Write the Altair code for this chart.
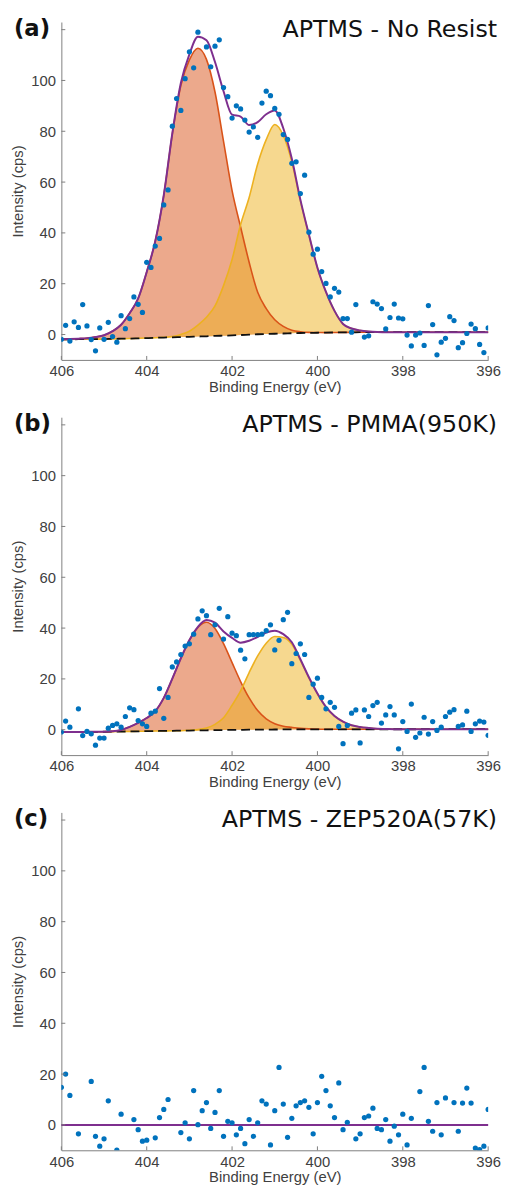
import altair as alt
import pandas as pd

# ---------------- data ----------------
ENERGY = [round(406 - 0.1 * i, 1) for i in range(101)]   # 406.0 ... 396.0 (step 0.1 eV)
GRID = [round(406 - 0.2 * i, 1) for i in range(51)]      # 406.0 ... 396.0 (step 0.2 eV)

N = None
PTS_A = [-1.9, 3.6, -2.6, 5.0, 2.8, 11.8, 3.4, -2.0, -6.4, 2.6,
         -1.9, 4.8, -0.8, -3.0, 7.4, 2.3, 6.3, 14.8, 11.9, 8.7,
         28.4, 26.4, 34.8, 37.8, 51.0, 56.9, 82.0, 92.9, 88.2, 100.7,
         111.3, 105.0, 119.0, N, 113.2, 105.4, 113.5, 116.0, 97.2, 93.6,
         85.2, 90.0, 88.8, 84.4, 79.7, 81.7, 77.6, 91.1, 95.8, 94.0,
         89.0, 86.7, 78.7, 76.8, 67.4, 68.0, 55.5, 62.7, 40.3, 31.6,
         33.6, 24.8, 20.1, 14.8, 18.2, 16.7, 6.3, 6.3, 0.9, 11.8,
         N, -1.0, -0.5, 12.9, 12.0, 10.2, 2.2, 6.7, 12.0, 6.5,
         6.2, -0.2, -4.5, -0.2, 0.6, -4.3, 11.4, 3.9, -8.0, -3.0,
         -1.5, 7.0, 5.5, -5.2, -3.2, 0.4, 4.1, 2.3, -3.9, -7.1,
         2.6]

PTS_B = [-0.9, 3.4, 1.0, N, 8.2, -2.3, -0.7, -1.6, -6.1, -3.3,
         -3.3, 0.6, 1.7, 2.3, 1.0, 5.2, 8.6, 7.9, 3.6, 2.3,
         1.3, 6.5, 7.3, 16.2, 4.5, 12.7, 24.7, 26.7, 29.6, 32.9,
         33.8, 37.6, 43.6, 46.8, 44.9, 37.4, 41.3, 47.8, 35.7, 44.5,
         38.0, 37.0, 31.3, 27.9, 37.4, 37.4, 37.4, 37.6, 39.0, 41.3,
         31.4, 35.2, 43.3, 46.2, 26.0, 30.0, 33.8, 29.6, 12.7, 17.9,
         20.3, 12.7, 8.2, 10.8, 8.8, 1.3, -5.5, 1.7, 6.5, 7.8,
         -5.2, 7.8, 5.2, 9.5, 10.8, 2.6, 5.8, 9.1, 5.8, -7.5,
         3.2, -0.7, 10.1, -3.0, -1.3, 4.9, -1.7, 3.2, -0.3, 1.0,
         5.2, 6.9, 7.9, 1.3, 1.9, 7.3, -0.7, 2.3, 3.4, 3.0,
         -2.2]

PTS_C = [14.8, 20.0, 11.6, N, -3.5, N, N, 17.1, -4.5, -8.4,
         -5.5, 9.5, N, -9.9, 4.2, N, N, 2.1, -1.9, -6.4,
         -6.0, N, -5.1, 2.9, 6.1, 10.0, N, N, -3.0, 0.8,
         -5.5, 13.5, 0.1, 5.6, 8.8, -1.4, 4.9, 13.5, -4.5, 1.4,
         0.8, -3.9, -1.4, -7.4, 2.1, -4.5, 0.8, 9.5, 8.2, -7.9,
         5.6, 22.6, 8.2, -4.9, 2.6, 7.5, 8.8, 9.5, 6.9, -3.5,
         8.8, 19.1, 13.5, 7.5, 2.9, 16.5, -1.9, 1.0, N, -5.5,
         -3.5, 2.9, 3.5, 6.6, -1.4, -1.9, 2.1, -6.4, -0.5, -3.9,
         4.2, -7.9, 2.6, N, 13.1, 22.6, 1.4, -2.5, 8.8, -3.9,
         10.6, N, 8.8, -2.5, 8.6, 14.5, 8.6, -9.1, -9.7, -8.4,
         6.1]

# fitted background and components (on GRID)
BASE_A = [-1.9, -1.9, -1.85, -1.85, -1.8, -1.8, -1.7, -1.65, -1.6, -1.5,
          -1.4, -1.3, -1.2, -1.1, -1.0, -0.9, -0.8, -0.7, -0.55, -0.45,
          -0.35, -0.2, -0.05, 0.1, 0.2, 0.3, 0.4, 0.5, 0.6, 0.65,
          0.7, 0.75, 0.8, 0.85, 0.85, 0.9, 0.9, 0.9, 0.9, 0.9,
          0.9, 0.9, 0.9, 0.9, 0.9, 0.9, 0.9, 0.9, 0.9, 0.9, 0.9]
PEAK1_A = [0, 0.1, 0.2, 0.4, 0.8, 1.5, 3.0, 5.5, 10.0, 15.7,
           26, 38, 56, 80, 99, 109, 113.5, 109, 96, 76.5,
           57, 42.5, 28.5, 16.5, 10, 5.5, 2.8, 1.2, 0.5, 0.2,
           0.1, 0, 0, 0, 0, 0, 0, 0, 0, 0,
           0, 0, 0, 0, 0, 0, 0, 0, 0, 0, 0]
PEAK2_A = [0, 0, 0, 0, 0, 0, 0, 0, 0, 0,
           0, 0, 0.1, 0.3, 1.0, 2.2, 4.5, 7.5, 11.8, 19.7,
           29.9, 43.5, 54, 67, 76.5, 82.4, 78, 67.5, 52, 38.5,
           25.5, 16, 8.5, 3.3, 1.5, 0.7, 0.3, 0.1, 0, 0,
           0, 0, 0, 0, 0, 0, 0, 0, 0, 0, 0]

BASE_B = [-0.9, -0.9, -0.88, -0.85, -0.82, -0.8, -0.75, -0.72, -0.68, -0.62,
          -0.58, -0.52, -0.48, -0.42, -0.38, -0.32, -0.28, -0.22, -0.18, -0.12,
          -0.08, -0.04, 0.0, 0.03, 0.06, 0.08, 0.1, 0.12, 0.13, 0.14,
          0.15, 0.15, 0.15, 0.16, 0.16, 0.16, 0.17, 0.17, 0.17, 0.18,
          0.18, 0.18, 0.18, 0.19, 0.19, 0.19, 0.19, 0.2, 0.2, 0.2, 0.2]
PEAK1_B = [0, 0, 0, 0, 0, 0, 0.1, 0.6, 1.8, 3.3,
           5.2, 7.8, 13.0, 20.5, 28.5, 35.5, 40.5, 42.5, 40.0, 34.0,
           26.5, 19.0, 12.5, 7.5, 4.2, 2.3, 1.3, 0.8, 0.4, 0.2,
           0.1, 0, 0, 0, 0, 0, 0, 0, 0, 0,
           0, 0, 0, 0, 0, 0, 0, 0, 0, 0, 0]
PEAK2_B = [0, 0, 0, 0, 0, 0, 0, 0, 0, 0,
           0, 0, 0, 0, 0, 0.1, 0.3, 0.9, 2.3, 4.8,
           9.7, 15.3, 22.5, 29.0, 34.0, 36.6, 36.2, 33.5, 27.2, 20.3,
           14.0, 8.8, 5.2, 3.0, 1.6, 0.9, 0.5, 0.2, 0.1, 0,
           0, 0, 0, 0, 0, 0, 0, 0, 0, 0, 0]

FLAT_C_E = [406, 396]
FLAT_C = [0, 0]

LABELS = ["(a)", "(b)", "(c)"]
TITLES = ["APTMS - No Resist", "APTMS - PMMA(950K)", "APTMS - ZEP520A(57K)"]
X_TICKS = [406, 404, 402, 400, 398, 396]
Y_TICKS = [0, 20, 40, 60, 80, 100, 120]

# ---------------- styling ----------------
W, H = 432, 342
C_PTS = "#0072BD"
C_P1 = "#D95319"
C_P2 = "#EDB120"
C_ENV = "#7E2F8E"
AX_GRAY = "#7f7f7f"
TXT_GRAY = "#404040"

XS = alt.Scale(domain=[396, 406], reverse=True, nice=False, zero=False)
YS = alt.Scale(domain=[-10, 123], nice=False, zero=False)

XAX = alt.Axis(values=X_TICKS, format="d", title="Binding Energy (eV)", grid=False,
               ticks=False, tickSize=0, labelPadding=4, titlePadding=1,
               labelFlush=False, domainColor=AX_GRAY, domainWidth=1,
               labelColor=TXT_GRAY, titleColor=TXT_GRAY,
               labelFont="Liberation Sans", titleFont="Liberation Sans",
               labelFontSize=15, titleFontSize=15, titleFontWeight="normal")
YAX = alt.Axis(values=Y_TICKS, labelExpr="datum.value > 110 ? '' : datum.label",
               title="Intensity (cps)", grid=False, ticks=False, tickSize=0,
               labelPadding=6, titlePadding=5, labelFlush=False,
               domainColor=AX_GRAY, domainWidth=1,
               labelColor=TXT_GRAY, titleColor=TXT_GRAY,
               labelFont="Liberation Sans", titleFont="Liberation Sans",
               labelFontSize=15, titleFontSize=15, titleFontWeight="normal")


def xenc():
    return alt.X("E:Q", scale=XS, axis=XAX)


def yenc(field):
    return alt.Y(field, scale=YS, axis=YAX)


def panel(pts, label, title, base=None, p1=None, p2=None, flat=None):
    layers = []
    if base is not None:
        dff = pd.DataFrame({"E": GRID, "base": base, "p1": p1, "p2": p2})
        fitc = alt.Chart(dff).transform_calculate(
            top1="datum.base + datum.p1",
            top2="datum.base + datum.p2",
            env="datum.base + datum.p1 + datum.p2",
        )
        layers += [
            fitc.mark_area(color=C_P1, opacity=0.5, interpolate="monotone").encode(
                x=xenc(), y=yenc("top1:Q"), y2="base:Q"),
            fitc.mark_area(color=C_P2, opacity=0.5, interpolate="monotone").encode(
                x=xenc(), y=yenc("top2:Q"), y2="base:Q"),
            fitc.mark_line(color=C_P1, strokeWidth=1.6, interpolate="monotone").encode(
                x=xenc(), y=yenc("top1:Q")),
            fitc.mark_line(color=C_P2, strokeWidth=1.6, interpolate="monotone").encode(
                x=xenc(), y=yenc("top2:Q")),
            fitc.mark_line(color="#111111", strokeWidth=1.8, strokeDash=[9, 5],
                           interpolate="monotone").encode(x=xenc(), y=yenc("base:Q")),
            fitc.mark_line(color=C_ENV, strokeWidth=2, interpolate="monotone").encode(
                x=xenc(), y=yenc("env:Q")),
        ]
    if flat is not None:
        dfl = pd.DataFrame({"E": flat[0], "env": flat[1]})
        layers.append(alt.Chart(dfl).mark_line(color=C_ENV, strokeWidth=2).encode(
            x=xenc(), y=yenc("env:Q")))

    dfp = pd.DataFrame({"E": ENERGY, "I": pts}).dropna()
    layers.append(alt.Chart(dfp).mark_circle(color=C_PTS, size=28, opacity=1, clip=True).encode(
        x=xenc(), y=yenc("I:Q")))

    # inward tick marks (MATLAB style)
    layers.append(alt.Chart(pd.DataFrame({"E": X_TICKS})).mark_rule(color=AX_GRAY).encode(
        x=xenc(), y=alt.value(H), y2=alt.value(H - 4)))
    layers.append(alt.Chart(pd.DataFrame({"v": Y_TICKS})).mark_rule(color=AX_GRAY).encode(
        y=yenc("v:Q"), x=alt.value(0), x2=alt.value(4)))

    # panel label and title
    layers.append(alt.Chart(pd.DataFrame({"t": [label]})).mark_text(
        font="DejaVu Sans", fontWeight="bold", fontSize=23, align="left",
        baseline="middle", color="#111111").encode(
        text="t:N", x=alt.value(-48), y=alt.value(7)))
    layers.append(alt.Chart(pd.DataFrame({"t": [title]})).mark_text(
        font="DejaVu Sans", fontSize=24, align="right", baseline="middle",
        color="#111111").encode(
        text="t:N", x=alt.value(441), y=alt.value(8)))

    return alt.layer(*layers).properties(width=W, height=H)


pa = panel(PTS_A, LABELS[0], TITLES[0], BASE_A, PEAK1_A, PEAK2_A)
pb = panel(PTS_B, LABELS[1], TITLES[1], BASE_B, PEAK1_B, PEAK2_B)
pc = panel(PTS_C, LABELS[2], TITLES[2], flat=(FLAT_C_E, FLAT_C))

chart = alt.vconcat(pa, pb, pc, spacing=19).properties(
    padding={"left": 2, "top": 3, "right": 0, "bottom": 0}
).configure_view(stroke=None)

chart.save("out.html", embed_options={"renderer": "svg", "actions": False})
